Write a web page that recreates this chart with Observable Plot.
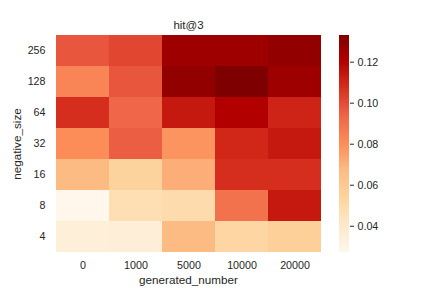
<!DOCTYPE html>
<html><head><meta charset="utf-8">
<script src="https://cdn.jsdelivr.net/npm/d3@7"></script>
<script src="https://cdn.jsdelivr.net/npm/@observablehq/plot@0.6"></script>
<style>
body{margin:0;background:#fff;}
#wrap{position:relative;width:432px;height:288px;font-family:"Liberation Sans",Arial,sans-serif;}
#wrap svg{position:absolute;top:0;overflow:visible;}
</style></head>
<body><div id="wrap"></div>
<script>
const generatedNumber = ["0","1000","5000","10000","20000"];
const negativeSize = ["256","128","64","32","16","8","4"];
const hit3 = [
  [0.097, 0.101, 0.125, 0.125, 0.128],
  [0.083, 0.097, 0.128, 0.133, 0.125],
  [0.107, 0.093, 0.113, 0.120, 0.110],
  [0.080, 0.095, 0.078, 0.109, 0.113],
  [0.067, 0.054, 0.071, 0.107, 0.107],
  [0.0272, 0.047, 0.049, 0.089, 0.113],
  [0.034, 0.035, 0.067, 0.052, 0.056]
];
const colorTicks = [0.04, 0.06, 0.08, 0.10, 0.12];
const orRd = ["#fff7ec","#fee8c8","#fdd49e","#fdbb84","#fc8d59","#ef6548","#d7301f","#b30000","#7f0000"];

const lo = d3.min(hit3.flat()), hi = d3.max(hit3.flat());
const colorScale = {type:"linear", domain: orRd.map((_, i) => lo + i*(hi-lo)/(orRd.length-1)), range: orRd, interpolate: "rgb"};
const data = [];
negativeSize.forEach((n, i) => generatedNumber.forEach((g, j) => data.push({g, n, v: hit3[i][j]})));
const txt = "#262626";

const main = Plot.plot({
  width: 322, height: 288,
  marginLeft: 54, marginRight: 0, marginTop: 35, marginBottom: 36,
  style: {fontFamily: '"Liberation Sans", Arial, sans-serif', fontSize: "10.7px", color: txt, background: "transparent"},
  x: {type: "band", domain: generatedNumber, padding: 0},
  y: {type: "band", domain: negativeSize, padding: 0},
  color: colorScale,
  marks: [
    Plot.cell(data, {x: "g", y: "n", fill: "v", inset: 0, shapeRendering: "crispEdges"}),
    Plot.axisX({tickSize: 0, tickPadding: 9, label: null, fill: txt, fontSize: 10.7}),
    Plot.axisY({tickSize: 0, tickPadding: 9, label: null, fill: txt, fontSize: 10.7}),
    Plot.text(["hit@3"], {frameAnchor: "top", lineAnchor: "middle", dy: -10, fill: txt, fontSize: 11.5}),
    Plot.text(["generated_number"], {frameAnchor: "bottom", lineAnchor: "top", dy: 23, fill: txt, fontSize: 11.7}),
    Plot.text(["negative_size"], {frameAnchor: "left", dx: -37, rotate: -90, textAnchor: "middle", fill: txt, fontSize: 11.7})
  ]
});
main.style.left = "0px";

const steps = d3.range(256).map(i => lo + (i/256)*(hi-lo));
const dv = (hi-lo)/256;
const bar = Plot.plot({
  width: 110, height: 288,
  marginLeft: 17, marginRight: 83, marginTop: 35, marginBottom: 36,
  style: {fontFamily: '"Liberation Sans", Arial, sans-serif', fontSize: "10.7px", color: txt, background: "transparent"},
  x: {domain: [0, 1], axis: null},
  y: {domain: [lo, hi], axis: null},
  color: colorScale,
  marks: [
    Plot.rect(steps, {x1: 0, x2: 1, y1: d => d, y2: d => d + dv*1.02, fill: d => d, shapeRendering: "crispEdges"}),
    Plot.axisY(colorTicks, {anchor: "right", tickSize: 4, tickPadding: 4, tickFormat: d3.format(".2f"), label: null, fill: txt, stroke: txt, fontSize: 10.7})
  ]
});
bar.style.left = "322px";
document.getElementById("wrap").append(main, bar);
</script></body></html>
